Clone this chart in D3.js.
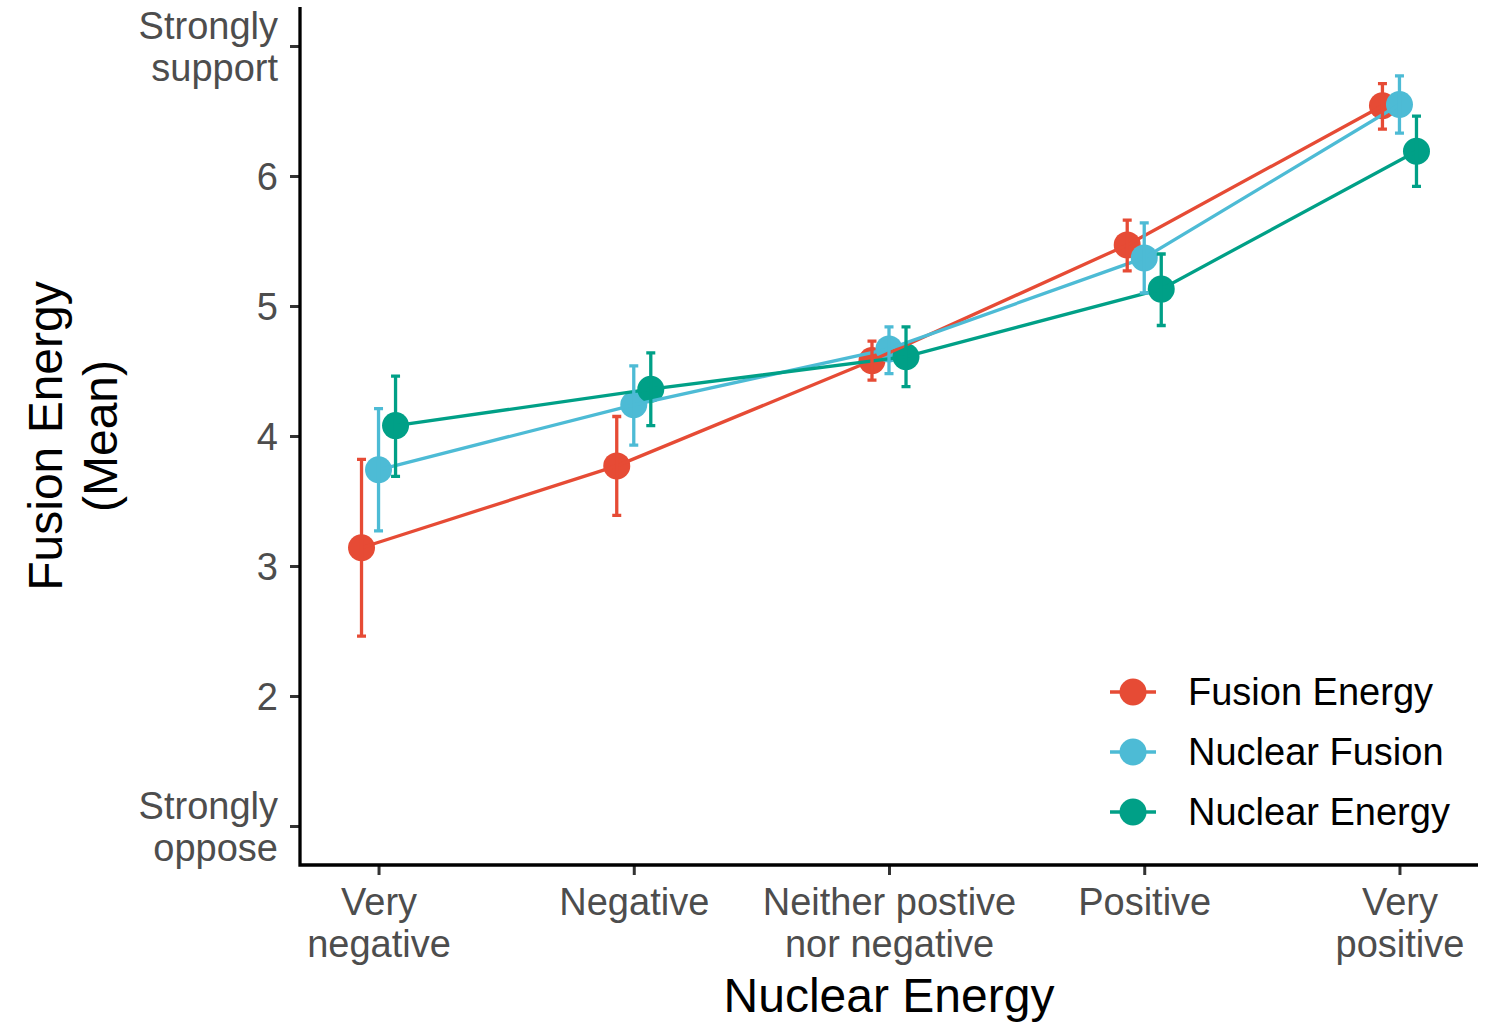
<!DOCTYPE html>
<html>
<head>
<meta charset="utf-8">
<script src="https://cdn.jsdelivr.net/npm/d3@7"></script>
<style>
  html, body { margin: 0; padding: 0; background: #fff; }
  svg { display: block; font-family: "Liberation Sans", Arial, Helvetica, sans-serif; }
</style>
</head>
<body>
<svg id="chart" width="1489" height="1023"></svg>
<script>
// Attitude toward nuclear energy (x) vs. mean support for the three framings (y)
const categories = [
  ["Very", "negative"],
  ["Negative"],
  ["Neither postive", "nor negative"],
  ["Positive"],
  ["Very", "positive"]
];

const seriesNames = ["Fusion Energy", "Nuclear Fusion", "Nuclear Energy"];
const seriesColors = ["#E64B35", "#4DBBD5", "#00A087"];

const fusionEnergyMean = [3.14, 3.77, 4.58, 5.47, 6.54];
const fusionEnergyLow  = [2.46, 3.39, 4.43, 5.27, 6.36];
const fusionEnergyHigh = [3.82, 4.15, 4.73, 5.66, 6.71];

const nuclearFusionMean = [3.74, 4.24, 4.67, 5.37, 6.55];
const nuclearFusionLow  = [3.27, 3.93, 4.48, 5.10, 6.33];
const nuclearFusionHigh = [4.21, 4.54, 4.84, 5.64, 6.77];

const nuclearEnergyMean = [4.08, 4.36, 4.61, 5.13, 6.19];
const nuclearEnergyLow  = [3.69, 4.08, 4.38, 4.85, 5.92];
const nuclearEnergyHigh = [4.46, 4.64, 4.84, 5.40, 6.46];

const yTickValues = [1, 2, 3, 4, 5, 6, 7];
const yTickLabels = [["Strongly", "oppose"], ["2"], ["3"], ["4"], ["5"], ["6"], ["Strongly", "support"]];

const xTitle = "Nuclear Energy";
const yTitle = ["Fusion Energy", "(Mean)"];

// assemble series records
const means = [fusionEnergyMean, nuclearFusionMean, nuclearEnergyMean];
const lows = [fusionEnergyLow, nuclearFusionLow, nuclearEnergyLow];
const highs = [fusionEnergyHigh, nuclearFusionHigh, nuclearEnergyHigh];
const series = seriesNames.map((name, s) => ({
  name,
  color: seriesColors[s],
  index: s,
  values: categories.map((c, i) => ({ cat: i, mean: means[s][i], low: lows[s][i], high: highs[s][i] }))
}));

const svg = d3.select("#chart");
const plot = { left: 300, right: 1478, top: 7, bottom: 865 };

const catKeys = categories.map((c, i) => i);
const x = d3.scalePoint().domain(catKeys).range([plot.left, plot.right]).padding(0.3077);
const y = d3.scaleLinear().domain([0.7, 7.3]).range([plot.bottom, plot.top]);

// dodge of 0.2 category widths, split across three series
const dodgeStep = x.step() * 0.2 / 3;
const xPos = (s, i) => x(i) + (s - 1) * dodgeStep;

const fontSize = 38;
const tickGrey = "#4D4D4D";
const markStroke = 3.3;

// ---- axes ----
const yAxis = d3.axisLeft(y).tickValues(yTickValues).tickSize(10).tickPadding(10).tickFormat(() => "");
const gy = svg.append("g").attr("transform", `translate(${plot.left},0)`).call(yAxis);
gy.select(".domain").remove();
gy.selectAll(".tick line").attr("stroke", "#333").attr("stroke-width", 3);
gy.selectAll(".tick text").remove();
gy.selectAll(".tick").each(function(d) {
  const lines = yTickLabels[yTickValues.indexOf(d)];
  const t = d3.select(this).append("text")
    .attr("x", -22).attr("text-anchor", "end")
    .attr("fill", tickGrey).attr("font-size", fontSize);
  const lh = 42;
  const first = -(lines.length - 1) * lh / 2 + 13;
  lines.forEach((ln, k) => t.append("tspan").attr("x", -22).attr("y", first + k * lh).text(ln));
});

const xAxis = d3.axisBottom(x).tickSize(10).tickFormat(() => "");
const gx = svg.append("g").attr("transform", `translate(0,${plot.bottom})`).call(xAxis);
gx.select(".domain").remove();
gx.selectAll(".tick line").attr("stroke", "#333").attr("stroke-width", 3);
gx.selectAll(".tick text").remove();
gx.selectAll(".tick").each(function(d) {
  const lines = categories[d];
  const t = d3.select(this).append("text")
    .attr("text-anchor", "middle").attr("fill", tickGrey).attr("font-size", fontSize);
  lines.forEach((ln, k) => t.append("tspan").attr("x", 0).attr("y", 50 + k * 42).text(ln));
});

// axis lines
svg.append("path")
  .attr("d", `M${plot.left},${plot.top}V${plot.bottom}H${plot.right}`)
  .attr("fill", "none").attr("stroke", "#000").attr("stroke-width", 3.3);

// axis titles
svg.append("text")
  .attr("x", (plot.left + plot.right) / 2).attr("y", 1012)
  .attr("text-anchor", "middle").attr("font-size", 48).attr("fill", "#000")
  .text(xTitle);

const yt = svg.append("text")
  .attr("transform", `translate(0,${(plot.top + plot.bottom) / 2}) rotate(-90)`)
  .attr("text-anchor", "middle").attr("font-size", 48).attr("fill", "#000");
yTitle.forEach((ln, k) => yt.append("tspan").attr("x", 0).attr("y", 62 + k * 55).text(ln));

// ---- marks ----
const gMarks = svg.append("g");

// points
series.forEach(s => {
  gMarks.append("g").selectAll("circle").data(s.values).join("circle")
    .attr("cx", d => xPos(s.index, d.cat)).attr("cy", d => y(d.mean))
    .attr("r", 13.5).attr("fill", s.color);
});

// connecting lines
const line = d3.line();
series.forEach(s => {
  gMarks.append("path")
    .attr("d", line(s.values.map(d => [xPos(s.index, d.cat), y(d.mean)])))
    .attr("fill", "none").attr("stroke", s.color).attr("stroke-width", markStroke);
});

// error bars
const capHalf = 4.5;
series.forEach(s => {
  const g = gMarks.append("g").attr("stroke", s.color).attr("stroke-width", markStroke).attr("fill", "none");
  g.selectAll("path").data(s.values).join("path")
    .attr("d", d => {
      const cx = xPos(s.index, d.cat), yl = y(d.low), yh = y(d.high);
      return `M${cx - capHalf},${yh}H${cx + capHalf}M${cx},${yh}V${yl}M${cx - capHalf},${yl}H${cx + capHalf}`;
    });
});

// ---- legend ----
const legend = svg.append("g").attr("transform", "translate(1133,692)");
series.forEach((s, i) => {
  const row = legend.append("g").attr("transform", `translate(0,${i * 60})`);
  row.append("line").attr("x1", -23).attr("x2", 23).attr("stroke", s.color).attr("stroke-width", markStroke);
  row.append("circle").attr("r", 13.5).attr("fill", s.color);
  row.append("text").attr("x", 55).attr("y", 13).attr("font-size", fontSize).attr("fill", "#000").text(s.name);
});
</script>
</body>
</html>
